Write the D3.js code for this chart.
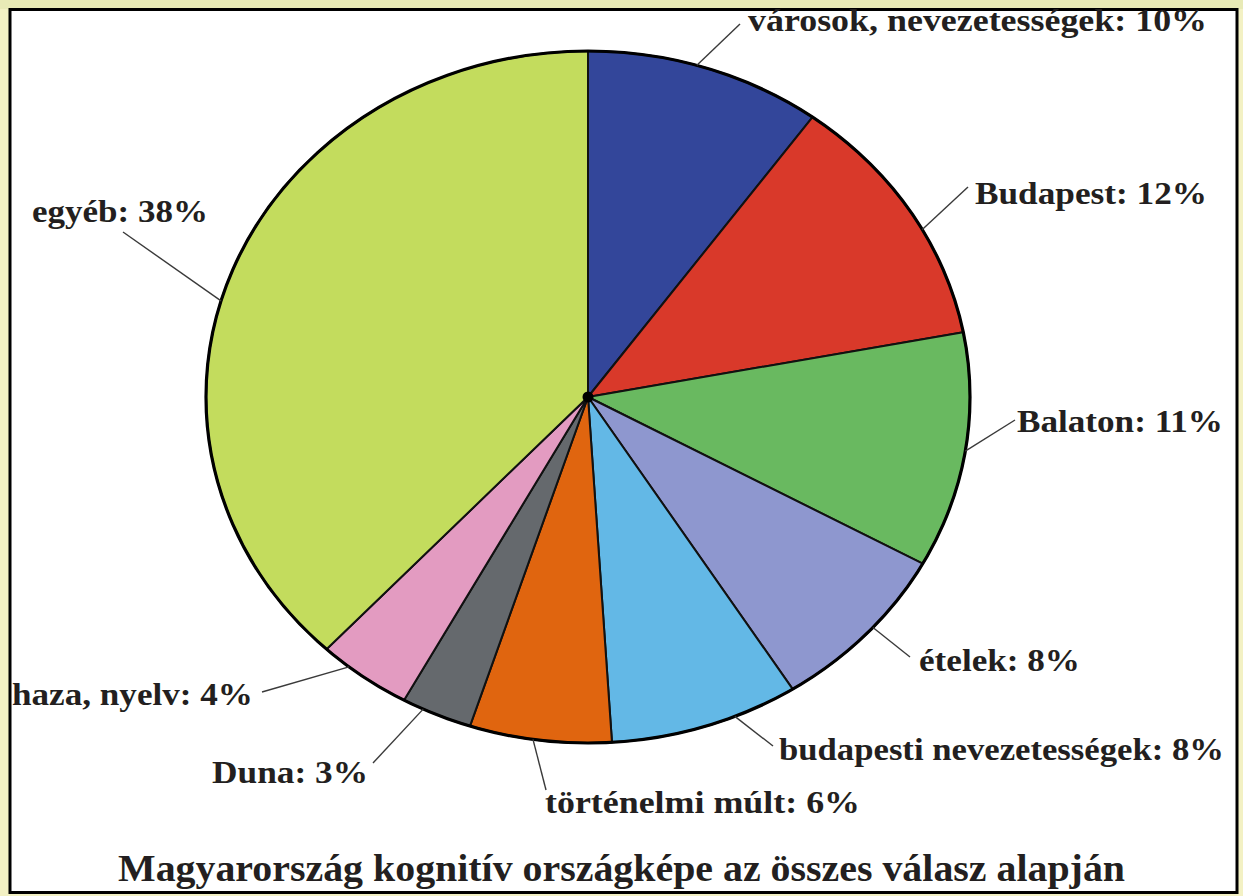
<!DOCTYPE html>
<html><head><meta charset="utf-8">
<script src="https://cdn.jsdelivr.net/npm/d3@7"></script>
<style>html,body{margin:0;padding:0;background:#f3f1c4;}svg{display:block;}</style>
</head><body>
<script>
// ---- data ----
const categories = ["városok, nevezetességek","Budapest","Balaton","ételek","budapesti nevezetességek","történelmi múlt","Duna","haza, nyelv","egyéb"];
const values = [10,12,11,8,8,6,3,4,38];
const colors = ["#33469a","#d9392a","#69b960","#8e97cf","#63b8e6","#e0650f","#65696d","#e39bc1","#c3dc5d"];
const title = "Magyarország kognitív országképe az összes válasz alapján";

// ---- layout ----
const W = 1243, H = 896;
const cx = 588, cy = 397, rx = 382, ry = 346;
// label anchor: text left x, baseline y, text width, leader end point, leader start fraction within slice
const labelLayout = [
  {x:748, y:31, w:459, ex:740, ey:24, f:0.46},
  {x:975, y:204, w:232, ex:968, ey:187, f:0.58},
  {x:1017, y:432, w:206, ex:1015, ey:420, f:0.5},
  {x:919, y:671, w:161, ex:910, ey:657, f:0.45},
  {x:779, y:760, w:445, ex:773, ey:746, f:0.34},
  {x:545, y:813, w:315, ex:546, ey:790, f:0.55},
  {x:212, y:783, w:156, ex:373, ey:763, f:0.70},
  {x:12, y:705, w:241, ex:262, ey:692, f:0.69},
  {x:32, y:222, w:176, ex:123, ey:232, f:0.46}
];

const svg = d3.select("body").append("svg").attr("width", W).attr("height", H);

svg.append("rect").attr("x",0).attr("y",0).attr("width",W).attr("height",H).attr("fill","#f3f1c4");
svg.append("rect").attr("x",0).attr("y",0).attr("width",W).attr("height",9).attr("fill","#e8eab6");
svg.append("rect").attr("x",10).attr("y",9.5).attr("width",1227).attr("height",883)
  .attr("fill","#ffffff").attr("stroke","#000").attr("stroke-width",3);

const pie = d3.pie().sort(null).value(d => d)(values);
const arc = d3.arc().innerRadius(0).outerRadius(ry);

const g = svg.append("g").attr("transform", `translate(${cx},${cy}) scale(${rx/ry},1)`);
g.selectAll("path.slice").data(pie).join("path")
  .attr("class","slice")
  .attr("d", arc)
  .attr("fill", (d,i) => colors[i])
  .attr("stroke","#111")
  .attr("stroke-width",2)
  .attr("stroke-linejoin","round")
  .attr("vector-effect","non-scaling-stroke");
g.append("ellipse").attr("cx",0).attr("cy",0).attr("rx",ry).attr("ry",ry)
  .attr("fill","none").attr("stroke","#000").attr("stroke-width",3.2)
  .attr("vector-effect","non-scaling-stroke");
svg.append("circle").attr("cx",cx).attr("cy",cy).attr("r",5.5).attr("fill","#000");

// leader lines
const edge = a => [cx + rx*Math.sin(a), cy - ry*Math.cos(a)];
const leadAngle = (d,i) => d.startAngle + (d.endAngle - d.startAngle) * labelLayout[i].f;
svg.selectAll("line.leader").data(pie).join("line")
  .attr("class","leader")
  .attr("x1", (d,i) => edge(leadAngle(d,i))[0])
  .attr("y1", (d,i) => edge(leadAngle(d,i))[1])
  .attr("x2", (d,i) => labelLayout[i].ex)
  .attr("y2", (d,i) => labelLayout[i].ey)
  .attr("stroke","#3a3a3a").attr("stroke-width",1.4);

// labels
svg.selectAll("text.lbl").data(pie).join("text")
  .attr("class","lbl")
  .attr("x", (d,i) => labelLayout[i].x)
  .attr("y", (d,i) => labelLayout[i].y)
  .attr("textLength", (d,i) => labelLayout[i].w)
  .attr("lengthAdjust","spacingAndGlyphs")
  .attr("font-family","'Liberation Serif','Times New Roman',serif")
  .attr("font-weight","bold")
  .attr("font-size",31)
  .attr("fill","#231f20")
  .text((d,i) => `${categories[i]}: ${values[i]}%`);

svg.append("text")
  .attr("x",118).attr("y",881)
  .attr("textLength",1007).attr("lengthAdjust","spacingAndGlyphs")
  .attr("font-family","'Liberation Serif','Times New Roman',serif")
  .attr("font-weight","bold").attr("font-size",38).attr("fill","#231f20")
  .text(title);
</script>
</body></html>
